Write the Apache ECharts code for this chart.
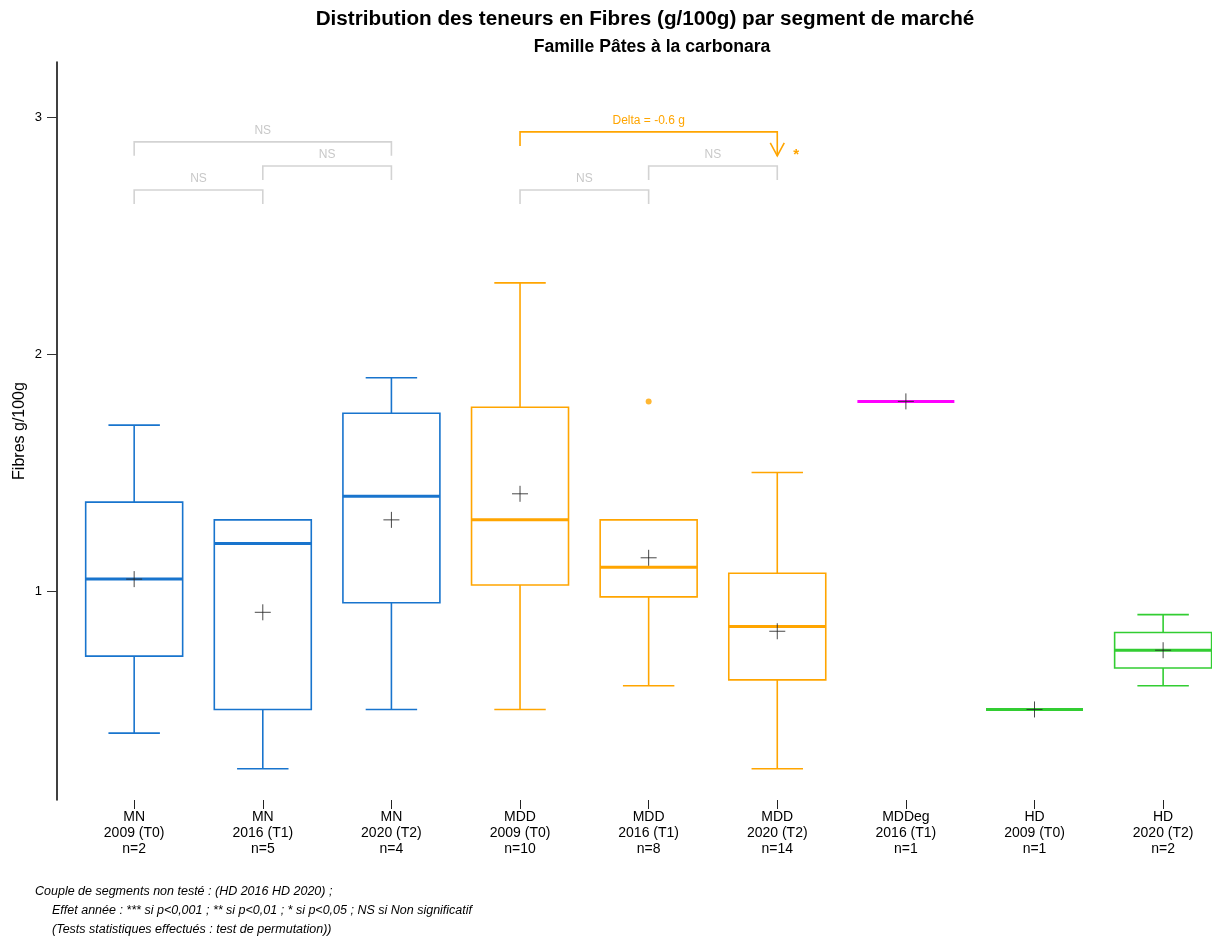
<!DOCTYPE html>
<html>
<head>
<meta charset="utf-8">
<script src="https://cdn.jsdelivr.net/npm/echarts@6/dist/echarts.min.js"></script>
<style>html,body{margin:0;padding:0;background:#fff}#c{width:1212px;height:943px}</style>
</head>
<body>
<div id="c"></div>
<script>
// ---- Data ----
const segments = ['MN','MN','MN','MDD','MDD','MDD','MDDeg','HD','HD'];
const periods = ['2009 (T0)','2016 (T1)','2020 (T2)','2009 (T0)','2016 (T1)','2020 (T2)','2016 (T1)','2009 (T0)','2020 (T2)'];
const counts = [2,5,4,10,8,14,1,1,2];
const whiskerLow  = [0.40, 0.25, 0.50, 0.50, 0.60, 0.25, 1.80, 0.50, 0.60];
const quartile1   = [0.725,0.50, 0.95, 1.025,0.975,0.625,1.80, 0.50, 0.675];
const medians     = [1.05, 1.20, 1.40, 1.30, 1.10, 0.85, 1.80, 0.50, 0.75];
const quartile3   = [1.375,1.30, 1.75, 1.775,1.30, 1.075,1.80, 0.50, 0.825];
const whiskerHigh = [1.70, 1.30, 1.90, 2.30, 1.30, 1.50, 1.80, 0.50, 0.90];
const means       = [1.05, 0.91, 1.30, 1.41, 1.14, 0.83, 1.80, 0.50, 0.75];
const outlierX = [4];
const outlierY = [1.80];
const yTicks = [1, 2, 3];

// significance brackets
const bracketFrom  = [0, 1, 0, 3, 4, 3];
const bracketTo    = [1, 2, 2, 4, 5, 5];
const bracketLevel = [2.692, 2.793, 2.895, 2.692, 2.793, 2.937];
const bracketLabel = ['NS','NS','NS','NS','NS','Delta = -0.6 g'];
const bracketSig   = ['','','','','','*'];

// ---- Styles ----
const segColor = {MN:'#1874CD', MDD:'#FFA500', MDDeg:'#FF00FF', HD:'#32CD32'};
const catLabels = segments.map((s,i)=> s + '\n' + periods[i] + '\nn=' + counts[i]);

const boxData = segments.map((s,i)=>[i, whiskerLow[i], quartile1[i], medians[i], quartile3[i], whiskerHigh[i], means[i]]);
const bracketData = bracketFrom.map((f,i)=>[f, bracketTo[i], bracketLevel[i], i]);

function renderBox(params, api){
  const i = params.dataIndex;
  const x = api.value(0);
  const c = segColor[segments[i]];
  const unit = api.size([1,0])[0];
  const half = unit*0.377;
  const capHalf = unit*0.2;
  const p = v => api.coord([x, v]);
  const lo=p(api.value(1)), q1=p(api.value(2)), md=p(api.value(3)), q3=p(api.value(4)), hi=p(api.value(5)), mn=p(api.value(6));
  const cx = md[0];
  const children = [];
  const ls = {stroke:c, lineWidth:1.6, fill:null};
  const single = api.value(1)===api.value(5);
  if(!single){
    if(hi[1] < q3[1]-0.5){
      children.push({type:'line', shape:{x1:cx,y1:hi[1],x2:cx,y2:q3[1]}, style:ls});
      children.push({type:'line', shape:{x1:cx-capHalf,y1:hi[1],x2:cx+capHalf,y2:hi[1]}, style:ls});
    }
    if(lo[1] > q1[1]+0.5){
      children.push({type:'line', shape:{x1:cx,y1:q1[1],x2:cx,y2:lo[1]}, style:ls});
      children.push({type:'line', shape:{x1:cx-capHalf,y1:lo[1],x2:cx+capHalf,y2:lo[1]}, style:ls});
    }
    children.push({type:'rect', shape:{x:cx-half, y:q3[1], width:2*half, height:q1[1]-q3[1]}, style:ls});
  }
  children.push({type:'line', shape:{x1:cx-half,y1:md[1],x2:cx+half,y2:md[1]}, style:{stroke:c, lineWidth:3}});
  // mean cross
  children.push({type:'line', shape:{x1:mn[0]-8,y1:mn[1],x2:mn[0]+8,y2:mn[1]}, style:{stroke:'rgba(40,40,40,0.85)', lineWidth:1}});
  children.push({type:'line', shape:{x1:mn[0],y1:mn[1]-8,x2:mn[0],y2:mn[1]+8}, style:{stroke:'rgba(40,40,40,0.85)', lineWidth:1}});
  return {type:'group', children};
}

function renderBracket(params, api){
  const i = params.dataIndex;
  const x1 = api.value(0), x2 = api.value(1), lv = api.value(2);
  const a = api.coord([x1, lv]), b = api.coord([x2, lv]);
  const sig = bracketSig[i] !== '';
  const c = sig ? '#FFA500' : '#D3D3D3';
  const txtC = sig ? '#FFA500' : '#C8C8C8';
  const leg = 14;
  const children = [];
  if(sig){
    children.push({type:'polyline', shape:{points:[[a[0],a[1]+leg],[a[0],a[1]],[b[0],b[1]],[b[0],b[1]+24]]}, style:{stroke:c, lineWidth:1.6, fill:null}});
    children.push({type:'polyline', shape:{points:[[b[0]-7,b[1]+11],[b[0],b[1]+24],[b[0]+7,b[1]+11]]}, style:{stroke:c, lineWidth:1.6, fill:null}});
    children.push({type:'text', style:{x:b[0]+19, y:b[1]+23, text:bracketSig[i], fill:c, font:'bold 15px "Liberation Sans", Arial, sans-serif', align:'center', verticalAlign:'middle'}});
  } else {
    children.push({type:'polyline', shape:{points:[[a[0],a[1]+leg],[a[0],a[1]],[b[0],b[1]],[b[0],b[1]+leg]]}, style:{stroke:c, lineWidth:1.6, fill:null}});
  }
  children.push({type:'text', style:{x:(a[0]+b[0])/2, y:a[1]-11, text:bracketLabel[i], fill:txtC, font:'12px "Liberation Sans", Arial, sans-serif', align:'center', verticalAlign:'middle'}});
  return {type:'group', children};
}

const chart = echarts.init(document.getElementById('c'), null, {renderer:'canvas'});
chart.setOption({
  animation:false,
  backgroundColor:'#fff',
  title:[
    {text:'Distribution des teneurs en Fibres (g/100g) par segment de marché', left:640, top:4, textAlign:'center',
     textStyle:{fontFamily:'Liberation Sans', fontWeight:'bold', fontSize:20.7, color:'#000'}},
    {text:'Famille Pâtes à la carbonara', left:647, top:33, textAlign:'center',
     textStyle:{fontFamily:'Liberation Sans', fontWeight:'bold', fontSize:17.6, color:'#000'}}
  ],
  grid:{left:57, right:0, top:62, bottom:143},
  xAxis:{
    type:'value', min:-0.6, max:8.38,
    axisLine:{show:false}, splitLine:{show:false},
    axisTick:{show:true, customValues:[0,1,2,3,4,5,6,7,8], length:9, lineStyle:{color:'#222', width:1}},
    axisLabel:{customValues:[0,1,2,3,4,5,6,7,8], formatter:v=>catLabels[Math.round(v)], fontFamily:'Liberation Sans', fontSize:14, lineHeight:16, color:'#000', margin:9}
  },
  yAxis:{
    type:'value', min:0.118, max:3.232,
    name:'Fibres g/100g', nameLocation:'middle', nameGap:29, nameMoveOverlap:false,
    nameTextStyle:{fontFamily:'Liberation Sans', fontSize:16, color:'#000'},
    axisLine:{show:true, onZero:false, lineStyle:{color:'#000', width:1.5}},
    axisTick:{show:true, customValues:yTicks, length:10, lineStyle:{color:'#333', width:1}},
    axisLabel:{customValues:yTicks, fontFamily:'Liberation Sans', fontSize:13, color:'#000', margin:15},
    splitLine:{show:false}
  },
  graphic:[
    {type:'text', left:35, top:885, style:{text:'Couple de segments non testé : (HD 2016 HD 2020) ;', font:'italic 12.5px "Liberation Sans", Arial, sans-serif', fill:'#000'}},
    {type:'text', left:52, top:904, style:{text:'Effet année : *** si p<0,001 ; ** si p<0,01 ; * si p<0,05 ; NS si Non significatif', font:'italic 12.5px "Liberation Sans", Arial, sans-serif', fill:'#000'}},
    {type:'text', left:52, top:923, style:{text:'(Tests statistiques effectués : test de permutation))', font:'italic 12.5px "Liberation Sans", Arial, sans-serif', fill:'#000'}}
  ],
  series:[
    {type:'custom', renderItem:renderBox, data:boxData, encode:{x:0, y:[1,5]}, clip:false, z:2},
    {type:'scatter', data:outlierX.map((x,i)=>[x, outlierY[i]]), symbol:'circle', symbolSize:6, itemStyle:{color:'#FFA500'}, z:3},
    {type:'custom', renderItem:renderBracket, data:bracketData, encode:{x:[0,1], y:2}, clip:false, z:4}
  ]
});
</script>
</body>
</html>
